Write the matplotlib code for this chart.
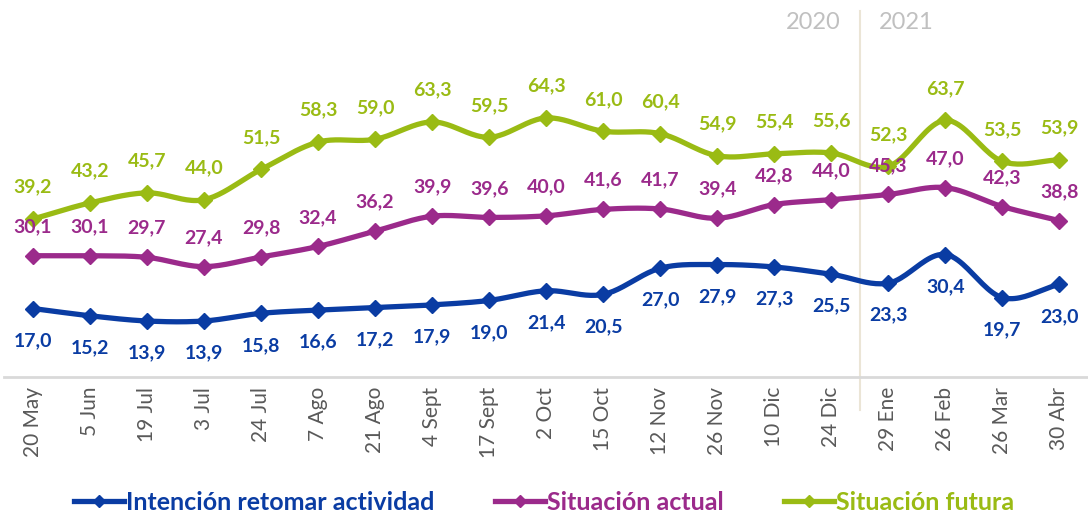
import numpy as np
import matplotlib
matplotlib.use("Agg")
import matplotlib.pyplot as plt

fechas = ["20 May", "5 Jun", "19 Jul", "3 Jul", "24 Jul", "7 Ago", "21 Ago", "4 Sept",
          "17 Sept", "2 Oct", "15 Oct", "12 Nov", "26 Nov", "10 Dic", "24 Dic",
          "29 Ene", "26 Feb", "26 Mar", "30 Abr"]
intencion = [17.0, 15.2, 13.9, 13.9, 15.8, 16.6, 17.2, 17.9, 19.0, 21.4, 20.5, 27.0,
             27.9, 27.3, 25.5, 23.3, 30.4, 19.7, 23.0]
actual = [30.1, 30.1, 29.7, 27.4, 29.8, 32.4, 36.2, 39.9, 39.6, 40.0, 41.6, 41.7,
          39.4, 42.8, 44.0, 45.3, 47.0, 42.3, 38.8]
futura = [39.2, 43.2, 45.7, 44.0, 51.5, 58.3, 59.0, 63.3, 59.5, 64.3, 61.0, 60.4,
          54.9, 55.4, 55.6, 52.3, 63.7, 53.5, 53.9]
anios = ["2020", "2021"]

AZUL = "#0a3ca3"
MORADO = "#9b2a8b"
VERDE = "#9abb14"
GRIS = "#595959"

plt.rcParams['font.family'] = ['Lato', 'DejaVu Sans']


def suavizar(x, y, n=24):
    # curva Catmull-Rom entre puntos consecutivos (como la linea suavizada de Excel)
    x = np.asarray(x, float)
    y = np.asarray(y, float)
    px = np.concatenate([[2 * x[0] - x[1]], x, [2 * x[-1] - x[-2]]])
    py = np.concatenate([[2 * y[0] - y[1]], y, [2 * y[-1] - y[-2]]])
    xs, ys = [], []
    t = np.linspace(0, 1, n)
    for i in range(1, len(px) - 2):
        for p, out in ((px, xs), (py, ys)):
            p0, p1, p2, p3 = p[i - 1], p[i], p[i + 1], p[i + 2]
            c1 = p1 + (p2 - p0) / 6
            c2 = p2 - (p3 - p1) / 6
            out.extend((1 - t) ** 3 * p1 + 3 * (1 - t) ** 2 * t * c1
                       + 3 * (1 - t) * t ** 2 * c2 + t ** 3 * p2)
    return np.array(xs), np.array(ys)


fig = plt.figure(figsize=(10.88, 5.21), dpi=100)
ax = fig.add_axes([0.004, 0.2764, 0.996, 0.696])

x = np.arange(len(fechas))
series = [
    ("Intención retomar actividad", intencion, AZUL, -23),
    ("Situación actual", actual, MORADO, 21),
    ("Situación futura", futura, VERDE, 23),
]
for nombre, valores, color, dy in series:
    sx, sy = suavizar(x, valores)
    ax.plot(sx, sy, color=color, lw=3.8, solid_capstyle='round', zorder=3)
    ax.plot(x, valores, ls='none', marker='D', ms=8, color=color, zorder=4)
    ax.plot([], [], color=color, lw=3.8, marker='D', ms=6, label=nombre)
    for xi, v in zip(x, valores):
        ax.annotate(f"{v:.1f}".replace(".", ","), (xi, v), xytext=(0, dy),
                    textcoords='offset points', ha='center', va='center',
                    fontsize=14, fontweight='bold', color=color, zorder=5)

ax.set_xlim(-0.5, len(fechas) - 0.5)
ax.set_ylim(0, 90)
ax.set_yticks([])
ax.set_xticks(x)
ax.set_xticklabels(fechas, rotation=90, fontsize=15, color=GRIS)
ax.tick_params(axis='x', length=0, pad=7)
for s in ['top', 'right', 'left']:
    ax.spines[s].set_visible(False)
ax.spines['bottom'].set_color('#d9d9d9')
ax.spines['bottom'].set_linewidth(2)

# separacion entre años
ax.axvline(14.5, ymin=-0.09, ymax=1.01, color='#ebe5d6', lw=1.5, clip_on=False, zorder=1)
ax.annotate(anios[0], (14.5, 1.0), xycoords=('data', 'axes fraction'), xytext=(-14, -6),
            textcoords='offset points', ha='right', va='center', fontsize=17, color='#c0c0c0')
ax.annotate(anios[1], (14.5, 1.0), xycoords=('data', 'axes fraction'), xytext=(14, -6),
            textcoords='offset points', ha='left', va='center', fontsize=17, color='#c0c0c0')

leg = fig.legend(loc='lower center', bbox_to_anchor=(0.5, -0.03), ncol=3, frameon=False,
                 prop={'size': 18, 'weight': 'bold'}, labelcolor='linecolor',
                 handlelength=2.0, handletextpad=0.1, columnspacing=2.4)

fig.savefig("out.png", dpi=100)
